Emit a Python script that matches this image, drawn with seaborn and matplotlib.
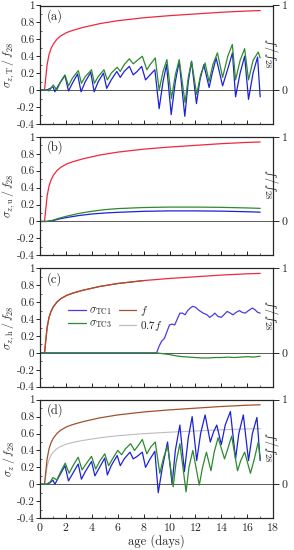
import numpy as np
import pandas as pd
import matplotlib
matplotlib.use("Agg")
import matplotlib.pyplot as plt
from matplotlib.ticker import MultipleLocator, FuncFormatter
import seaborn as sns

# compressive strength ratio f/f28
f_days = [0, 0.35, 0.45, 0.55, 0.7, 0.85, 1.03, 1.3, 1.6, 2.06, 2.5, 3.3, 4.6, 6, 8, 10, 12, 14, 16, 17]
f_vals = [0, 0, 0.15, 0.3, 0.42, 0.49, 0.545, 0.6, 0.64, 0.68, 0.705, 0.74, 0.785, 0.82, 0.855, 0.88, 0.9, 0.92, 0.935, 0.94]

# (a) thermal stress
a_blue_days = [0, 0.5, 0.8, 1.0, 1.15, 1.4, 1.7, 1.93, 2.2, 2.5, 2.9, 3.17, 3.5, 3.92, 4.18, 4.5, 4.9, 5.15,
               5.5, 5.93, 6.2, 6.5, 6.9, 7.2, 7.5, 7.85, 8.15, 8.5, 8.87, 9.2, 9.5, 9.77, 10.13, 10.45, 10.75,
               11.18, 11.45, 11.7, 12.08, 12.35, 12.65, 13.06, 13.3, 13.6, 14.1, 14.5, 14.86, 15.1, 15.45,
               15.8, 16.1, 16.45, 16.8, 17.0]
a_blue_vals = [0, 0, 0.02, 0.04, -0.02, 0.05, 0.12, 0.17, -0.01, 0.08, 0.19, -0.02, 0.10, 0.21, -0.02, 0.10,
               0.20, 0.02, 0.12, 0.22, 0.15, 0.22, 0.28, 0.18, 0.22, 0.28, 0.12, 0.18, 0.24, -0.22, 0.10, 0.30,
               -0.29, 0.10, 0.34, -0.31, 0.10, 0.34, -0.16, 0.12, 0.30, 0.03, 0.20, 0.38, 0.05, 0.25, 0.44,
               -0.08, 0.20, 0.40, -0.11, 0.20, 0.39, -0.08]
a_green_days = [0, 0.5, 0.7, 1.03, 1.3, 1.6, 1.93, 2.2, 2.5, 2.96, 3.2, 3.5, 3.98, 4.2, 4.5, 4.94, 5.2, 5.5,
                5.96, 6.2, 6.5, 6.9, 7.2, 7.5, 7.9, 8.25, 8.5, 8.9, 9.2, 9.5, 9.8, 10.15, 10.45, 10.75, 11.2,
                11.45, 11.7, 12.1, 12.4, 12.75, 13.05, 13.35, 13.7, 14.1, 14.5, 14.85, 15.1, 15.45, 15.8,
                16.1, 16.45, 16.85, 17.0]
a_green_vals = [0, 0, -0.01, 0.06, 0.0, 0.10, 0.18, 0.05, 0.14, 0.23, 0.08, 0.16, 0.24, 0.08, 0.16, 0.24,
                0.12, 0.20, 0.27, 0.22, 0.30, 0.37, 0.31, 0.35, 0.40, 0.24, 0.30, 0.38, 0.0, 0.22, 0.36, -0.10,
                0.18, 0.36, -0.15, 0.15, 0.34, -0.05, 0.18, 0.32, 0.10, 0.30, 0.44, 0.15, 0.40, 0.54, 0.12,
                0.35, 0.49, 0.12, 0.35, 0.45, 0.38]

# (b) shrinkage stress
b_days = [0, 0.5, 1, 1.5, 2, 3, 4, 5, 6, 8, 10, 12, 14, 16, 17]
b_blue_vals = [0, 0, 0.01, 0.03, 0.045, 0.07, 0.088, 0.10, 0.108, 0.12, 0.125, 0.125, 0.122, 0.115, 0.11]
b_green_vals = [0, 0, 0.015, 0.04, 0.06, 0.095, 0.12, 0.14, 0.152, 0.165, 0.17, 0.17, 0.167, 0.16, 0.155]

# (c) hydration / humidity stress
c_blue_days = [0, 9.0, 9.2, 9.4, 9.6, 9.8, 10.0, 10.2, 10.4, 10.6, 10.8, 11.0, 11.2, 11.4, 11.6, 11.8, 12.0,
               12.3, 12.6, 12.9, 13.1, 13.3, 13.5, 13.75, 14.0, 14.2, 14.45, 14.7, 14.9, 15.15, 15.4, 15.6,
               15.85, 16.1, 16.4, 16.6, 16.8, 17.0]
c_blue_vals = [0, 0, 0.08, 0.14, 0.17, 0.25, 0.33, 0.34, 0.33, 0.40, 0.47, 0.47, 0.45, 0.50, 0.53, 0.55, 0.54,
               0.50, 0.47, 0.45, 0.42, 0.44, 0.47, 0.43, 0.42, 0.45, 0.49, 0.47, 0.45, 0.48, 0.50, 0.48, 0.47,
               0.50, 0.53, 0.51, 0.48, 0.47]
c_green_days = [0, 9.0, 9.5, 10, 10.5, 11, 11.5, 12, 12.5, 13, 13.5, 14, 14.5, 15, 15.5, 16, 16.5, 17]
c_green_vals = [0, 0, -0.01, -0.02, -0.035, -0.045, -0.05, -0.055, -0.06, -0.06, -0.055, -0.055, -0.05,
                -0.055, -0.05, -0.045, -0.05, -0.04]

# (d) total stress
d_blue_days = [0, 0.5, 0.8, 1.0, 1.15, 1.5, 1.93, 2.2, 2.5, 2.95, 3.2, 3.5, 3.98, 4.24, 4.6, 5.0, 5.2, 5.5,
               5.96, 6.2, 6.5, 6.95, 7.2, 7.5, 7.9, 8.15, 8.5, 8.87, 9.13, 9.45, 9.85, 10.2, 10.45, 10.8,
               11.15, 11.45, 11.75, 12.1, 12.4, 12.75, 13.15, 13.4, 13.65, 14.0, 14.3, 14.7, 15.1, 15.35,
               15.7, 16.1, 16.4, 16.75, 17.0]
d_blue_vals = [0, 0, 0.02, 0.05, 0.0, 0.10, 0.22, 0.04, 0.12, 0.24, 0.06, 0.15, 0.27, 0.10, 0.20, 0.31, 0.11,
               0.22, 0.34, 0.22, 0.30, 0.38, 0.30, 0.33, 0.38, 0.20, 0.30, 0.39, -0.10, 0.20, 0.50, 0.0, 0.40,
               0.70, 0.15, 0.55, 0.80, 0.28, 0.60, 0.82, 0.50, 0.62, 0.70, 0.47, 0.70, 0.86, 0.30, 0.60, 0.82,
               0.28, 0.60, 0.79, 0.28]
d_green_days = [0, 0.5, 0.8, 1.0, 1.3, 1.6, 1.95, 2.25, 2.55, 2.95, 3.25, 3.6, 3.98, 4.3, 4.6, 5.0, 5.3, 5.6,
                6.0, 6.3, 6.6, 7.0, 7.3, 7.6, 7.9, 8.25, 8.55, 8.9, 9.25, 9.55, 9.85, 10.28, 10.5, 10.8, 11.28,
                11.5, 11.8, 12.3, 12.55, 12.85, 13.2, 13.45, 13.75, 14.25, 14.5, 14.8, 15.25, 15.5, 15.8,
                16.25, 16.55, 16.85, 17.0]
d_green_vals = [0, 0, 0.03, 0.08, 0.05, 0.15, 0.25, 0.13, 0.22, 0.32, 0.17, 0.25, 0.33, 0.18, 0.27, 0.36,
                0.22, 0.30, 0.40, 0.35, 0.42, 0.48, 0.40, 0.46, 0.53, 0.36, 0.44, 0.50, 0.13, 0.32, 0.45, -0.03,
                0.25, 0.48, -0.09, 0.20, 0.40, -0.01, 0.20, 0.38, 0.16, 0.38, 0.55, 0.30, 0.42, 0.57, 0.16,
                0.28, 0.38, 0.13, 0.30, 0.50, 0.30]

panel_tags = ["(a)", "(b)", "(c)", "(d)"]
left_labels = [r"$\sigma_{z,\mathrm{T}}\,/\,f_{28}$", r"$\sigma_{z,\mathrm{u}}\,/\,f_{28}$",
               r"$\sigma_{z,\mathrm{h}}\,/\,f_{28}$", r"$\sigma_{z}\,/\,f_{28}$"]

RED = "#ee2840"
BLUE = "#1c22d6"
BLUE_C = "#4a3ce0"
GREEN = "#2e8a2e"
BROWN = "#a0522d"
GREY = "#bdbdbd"

sns.set_theme(style="ticks")
plt.rcParams["font.family"] = "serif"
plt.rcParams["font.serif"] = ["cmr10", "DejaVu Serif"]
plt.rcParams["mathtext.fontset"] = "cm"
plt.rcParams["axes.unicode_minus"] = False
plt.rcParams["axes.formatter.use_mathtext"] = True

fig, axes = plt.subplots(4, 1, figsize=(2.94, 5.5), dpi=100, sharex=True)
fig.subplots_adjust(left=0.136, right=0.929, top=0.99, bottom=0.058, hspace=0.11)

f_days = np.array(f_days)
f_vals = np.array(f_vals)
lw = 0.9


def line(ax, x, y, color, lw=lw):
    sns.lineplot(x=x, y=y, ax=ax, color=color, lw=lw, estimator=None, sort=False, legend=False)


series = [
    [(a_blue_days, a_blue_vals, BLUE), (a_green_days, a_green_vals, GREEN)],
    [(b_days, b_blue_vals, BLUE), (b_days, b_green_vals, GREEN)],
    [(c_blue_days, c_blue_vals, BLUE_C), (c_green_days, c_green_vals, GREEN)],
    [(d_blue_days, d_blue_vals, BLUE), (d_green_days, d_green_vals, GREEN)],
]

for i, ax in enumerate(axes):
    ax.axhline(0, color="0.35", lw=0.7, zorder=1)
    if i < 2:
        line(ax, f_days, f_vals, RED)
    elif i == 2:
        line(ax, f_days, f_vals, RED)
        m = f_days <= 9
        line(ax, f_days[m], f_vals[m], BROWN)
    else:
        line(ax, f_days, 0.7 * f_vals, GREY, lw=0.8)
        line(ax, f_days, f_vals, BROWN)
    for x, y, c in series[i]:
        line(ax, x, y, c)

    ax.set_xlim(0, 18)
    ax.set_ylim(-0.4, 1)
    ax.yaxis.set_major_locator(MultipleLocator(0.2))
    ax.yaxis.set_minor_locator(MultipleLocator(0.1))
    ax.yaxis.set_major_formatter(FuncFormatter(lambda v, p: "%g" % round(v, 2)))
    ax.xaxis.set_major_locator(MultipleLocator(2))
    ax.xaxis.set_minor_locator(MultipleLocator(1))
    ax.tick_params(axis="y", which="major", direction="out", length=3, width=0.7, labelsize=8, pad=1,
                   right=False)
    ax.tick_params(axis="y", which="minor", direction="in", length=1.5, width=0.5, right=False)
    ax.tick_params(axis="x", which="major", direction="in", length=3, width=0.7, labelsize=8.5, pad=2)
    ax.tick_params(axis="x", which="minor", direction="in", length=1.5, width=0.5)
    for s in ax.spines.values():
        s.set_linewidth(0.8)
        s.set_color("black")
    ax.set_ylabel(left_labels[i], fontsize=8.5)
    ax.yaxis.set_label_coords(-0.098, 0.5)
    ax.set_xlabel("")
    ax.text(0.03, 0.91, panel_tags[i], transform=ax.transAxes, fontsize=9, va="center", ha="left")

    ax2 = ax.twinx()
    ax2.set_ylim(-0.4, 1)
    ax2.set_yticks([0, 1])
    ax2.set_yticklabels(["0", "1"])
    ax2.tick_params(axis="y", direction="out", length=4, width=0.7, labelsize=8.5, pad=2)
    ax2.set_ylabel(r"$f\,/f_{28}$", fontsize=9, rotation=270)
    ax2.yaxis.set_label_coords(1.028, 0.6)
    for s in ax2.spines.values():
        s.set_linewidth(0.8)

axes[3].set_xlabel("age (days)", fontsize=9, labelpad=1)

# legend in panel (c)
ax = axes[2]
handles = [
    plt.Line2D([], [], color=BLUE_C, lw=lw),
    plt.Line2D([], [], color=GREEN, lw=lw),
    plt.Line2D([], [], color=BROWN, lw=lw),
    plt.Line2D([], [], color=GREY, lw=lw),
]
labels = [r"$\sigma_{\mathrm{TC1}}$", r"$\sigma_{\mathrm{TC3}}$", r"$f$", r"$0.7f$"]
leg = ax.legend(handles, labels, ncol=2, loc="upper left", bbox_to_anchor=(0.1, 0.74), frameon=False,
                fontsize=8, handlelength=1.6, handletextpad=0.3, columnspacing=0.6, labelspacing=0.1,
                borderaxespad=0)
leg.set_zorder(10)

fig.savefig("out.png", dpi=100)
